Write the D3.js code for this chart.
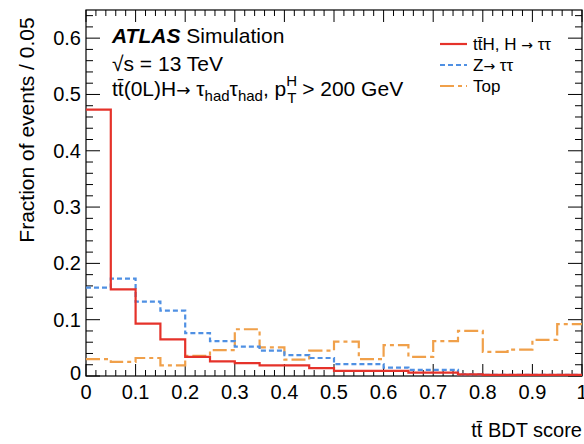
<!DOCTYPE html>
<html><head><meta charset="utf-8">
<script src="https://cdn.jsdelivr.net/npm/d3@7"></script>
<style>body{margin:0;background:#fff}svg{display:block;font-family:"Liberation Sans",Arial,sans-serif}.arr{font-family:"DejaVu Sans",sans-serif}</style>
</head><body><svg id="c" width="584" height="444"></svg>
<script>
const binEdges = [0,0.05,0.1,0.15,0.2,0.25,0.3,0.35,0.4,0.45,0.5,0.55,0.6,0.65,0.7,0.75,0.8,0.85,0.9,0.95,1.0];
const ttH = [0.473,0.154,0.093,0.065,0.034,0.026,0.023,0.019,0.019,0.014,0.009,0.009,0.009,0.006,0.006,0.003,0.002,0.002,0.002,0.002];
const ztautau = [0.157,0.173,0.132,0.116,0.076,0.062,0.052,0.045,0.037,0.032,0.021,0.021,0.015,0.011,0.011,0.003,0.002,0.002,0.002,0.002];
const topBkg = [0.030,0.025,0.032,0.019,0.036,0.046,0.083,0.051,0.029,0.045,0.061,0.030,0.055,0.034,0.062,0.080,0.043,0.047,0.064,0.092];
const xTicks = [0,0.1,0.2,0.3,0.4,0.5,0.6,0.7,0.8,0.9,1];
const xTickLabels = ["0","0.1","0.2","0.3","0.4","0.5","0.6","0.7","0.8","0.9","1"];
const yTicks = [0,0.1,0.2,0.3,0.4,0.5,0.6];
const yTickLabels = ["0","0.1","0.2","0.3","0.4","0.5","0.6"];
const seriesNames = [["t\u0074\u0304H, H ","\u2192"," \u03c4\u03c4"],["Z","\u2192"," \u03c4\u03c4"],["Top","",""]];

const svg = d3.select("#c");
const L=86,R=582,T=10,B=376;
const x = d3.scaleLinear().domain([0,1]).range([L,R]);
const y = d3.scaleLinear().domain([0,0.65]).range([B,T]);

// frame
svg.append("rect").attr("x",L).attr("y",T).attr("width",R-L).attr("height",B-T)
  .attr("fill","none").attr("stroke","#000").attr("stroke-width",1.2);

// ticks
const g = svg.append("g").attr("stroke","#000").attr("stroke-width",1);
const minorX = d3.range(0,51).map(i=>i*0.02);
minorX.forEach(v=>{
  const major = Math.abs(v*10-Math.round(v*10))<1e-6;
  const len = major?12:6;
  g.append("line").attr("x1",x(v)).attr("x2",x(v)).attr("y1",B).attr("y2",B-len);
  g.append("line").attr("x1",x(v)).attr("x2",x(v)).attr("y1",T).attr("y2",T+len);
});
const minorY = d3.range(0,33).map(i=>i*0.02).filter(v=>v<=0.65);
minorY.forEach(v=>{
  const major = Math.abs(v*10-Math.round(v*10))<1e-6;
  const len = major?14:7;
  g.append("line").attr("y1",y(v)).attr("y2",y(v)).attr("x1",L).attr("x2",L+len);
  g.append("line").attr("y1",y(v)).attr("y2",y(v)).attr("x1",R).attr("x2",R-len);
});

// tick labels
xTicks.forEach((v,i)=>{
  svg.append("text").attr("x",x(v)).attr("y",B+23).attr("text-anchor","middle")
    .attr("font-size",20).text(xTickLabels[i]);
});
yTicks.forEach((v,i)=>{
  svg.append("text").attr("x",L-5).attr("y",y(v)+(i===0?4:7)).attr("text-anchor","end")
    .attr("font-size",20).text(yTickLabels[i]);
});

// axis titles
svg.append("text").attr("transform",`translate(34,130) rotate(-90)`)
  .attr("text-anchor","middle").attr("font-size",21).text("Fraction of events / 0.05");
svg.append("text").attr("x",582).attr("y",437).attr("text-anchor","end")
  .attr("font-size",20).text("t\u0074\u0304 BDT score");

// histograms
function stepPath(vals){
  const pts=[];
  vals.forEach((v,i)=>{pts.push([binEdges[i],v]);pts.push([binEdges[i+1],v]);});
  return d3.line().x(d=>x(d[0])).y(d=>y(d[1]))(pts);
}
const styles = [
  {vals:ttH,color:"#e5322a",dash:null},
  {vals:ztautau,color:"#4f90e3",dash:"5,3"},
  {vals:topBkg,color:"#f0a04a",dash:"14,4,4,4"}
];
[2,1,0].forEach(k=>{
  const s=styles[k];
  svg.append("path").attr("d",stepPath(s.vals)).attr("fill","none")
    .attr("stroke",s.color).attr("stroke-width",2.2)
    .attr("stroke-dasharray",s.dash);
});

// legend
styles.forEach((s,i)=>{
  const ly = 44 + i*21;
  svg.append("line").attr("x1",440).attr("x2",467).attr("y1",ly).attr("y2",ly)
    .attr("stroke",s.color).attr("stroke-width",2.2).attr("stroke-dasharray",s.dash);
  const t = svg.append("text").attr("x",473).attr("y",ly+6).attr("font-size",17);
  t.append("tspan").text(seriesNames[i][0]);
  if(seriesNames[i][1]) t.append("tspan").attr("class","arr").attr("font-size",14).text(seriesNames[i][1]);
  if(seriesNames[i][2]) t.append("tspan").text(seriesNames[i][2]);
});

// labels
const t1 = svg.append("text").attr("x",112).attr("y",43).attr("font-size",21);
t1.append("tspan").attr("font-weight","bold").attr("font-style","italic").text("ATLAS");
t1.append("tspan").text(" Simulation");
svg.append("text").attr("x",112).attr("y",71).attr("font-size",21).text("\u221as = 13 TeV");
const t3 = svg.append("text").attr("x",112).attr("y",96).attr("font-size",21);
t3.append("tspan").text("t\u0074\u0304(0L)H");
t3.append("tspan").attr("class","arr").attr("font-size",17).text("\u2192");
t3.append("tspan").text(" \u03c4");
t3.append("tspan").attr("font-size",15).attr("dy",5).text("had");
t3.append("tspan").attr("dy",-5).text("\u03c4");
t3.append("tspan").attr("font-size",15).attr("dy",5).text("had");
t3.append("tspan").attr("dy",-5).text(", p");
t3.append("tspan").attr("font-size",15).attr("dy",-10).text("H");
t3.append("tspan").attr("font-size",15).attr("dx",-10).attr("dy",17).text("T");
t3.append("tspan").attr("dy",-7).text(" > 200 GeV");
</script></body></html>
